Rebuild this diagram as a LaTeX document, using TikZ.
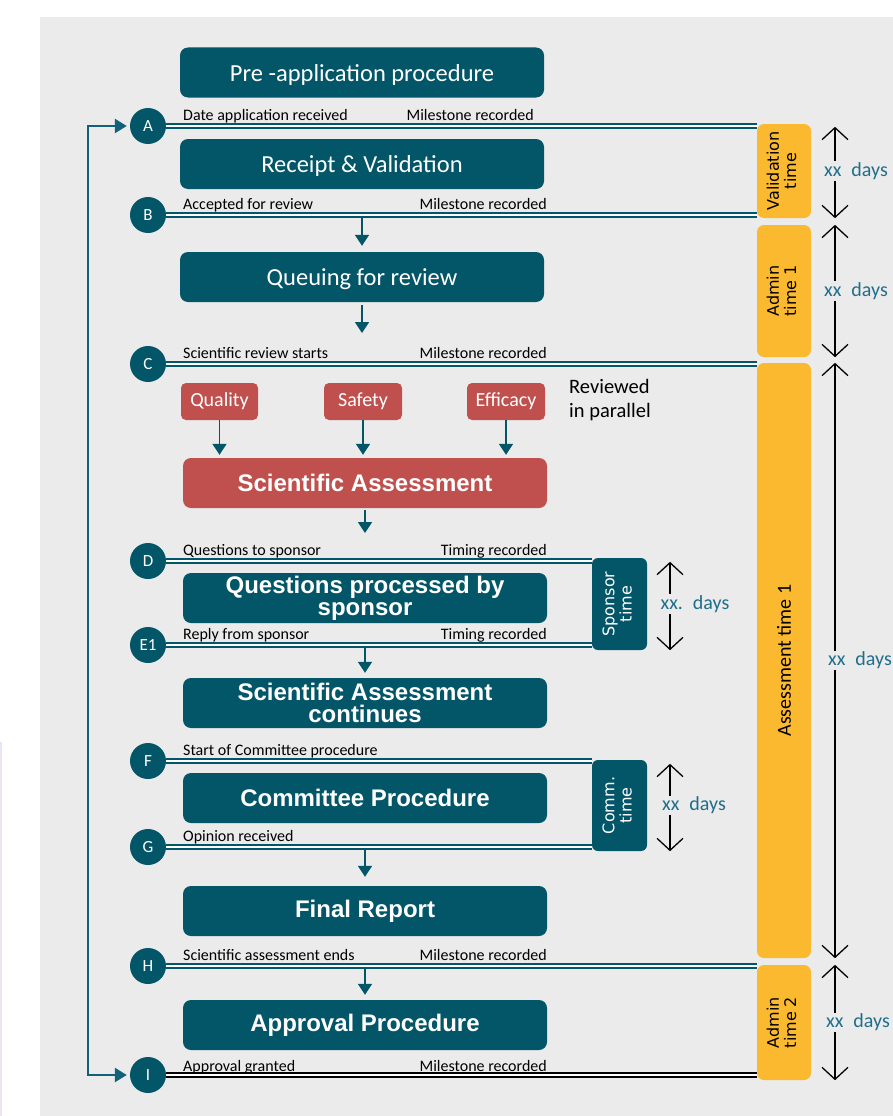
\documentclass[tikz,border=0pt]{standalone}
\usepackage{fontspec}
\usepackage{graphicx}
\setmainfont{Carlito}
\newfontfamily\headfont{Liberation Sans}
\newfontfamily\verdfont{DejaVu Sans}
\usepackage{tikz}
\usetikzlibrary{arrows.meta, positioning}
\definecolor{boxteal}{RGB}{3,85,104}
\definecolor{redbox}{RGB}{192,80,77}
\definecolor{amber}{RGB}{251,185,47}
\definecolor{bggrey}{RGB}{235,235,235}
\definecolor{dayteal}{RGB}{31,110,140}
\definecolor{loopblue}{RGB}{18,96,122}
\definecolor{lavender}{RGB}{236,228,245}

\begin{document}
\begin{tikzpicture}[x=1pt, y=-1pt,
  stage/.style={fill=boxteal, rounded corners=8pt, text=white, minimum width=364, minimum height=50, align=center, inner sep=0pt},
  plain/.style={font=\fontsize{24.5}{26}\selectfont, text depth=0pt},
  heavy/.style={font=\headfont\bfseries\fontsize{24}{22}\selectfont},
  topic/.style={fill=redbox, rounded corners=5pt, text=white, minimum height=37, inner sep=0pt, font=\fontsize{20}{20}\selectfont},
  clock/.style={fill=boxteal, rounded corners=6pt, text=white, minimum width=55, inner sep=0pt, font=\verdfont\fontsize{16}{17}\selectfont},
  yel/.style={fill=amber, rounded corners=7pt, minimum width=54, inner sep=0pt, font=\verdfont\fontsize{16}{17}\selectfont},
  mstone/.style={circle, fill=boxteal, text=white, minimum size=36, inner sep=0pt, font=\fontsize{17}{17}\selectfont},
  lbl/.style={inner sep=0pt, font=\fontsize{16}{16}\selectfont},
  track/.style={draw=boxteal, double=white, line width=1.8pt, double distance=1.6pt},
  flow/.style={draw=boxteal, line width=1.8pt, -{Triangle[length=11pt,width=14pt]}},
  span/.style={draw=black, line width=1.3pt, {Straight Barb[length=12pt,width=26pt]}-{Straight Barb[length=12pt,width=26pt]}},
  days/.style={fill=bggrey, text=dayteal, inner sep=1pt, font=\fontsize{20}{20}\selectfont}]
\useasboundingbox (0,0) rectangle (893,1116);
\fill[bggrey] (40,17) rectangle (893,1116);
\draw[lavender, line width=1.5pt] (1,742) -- (1,1116);

\node[stage, plain] (pre) at (362,72.5) {Pre -application procedure};
\node[stage, plain] (rec) at (362,164) {Receipt \& Validation};
\node[stage, plain] (que) at (362,277) {Queuing for review};
\node[topic, minimum width=77] (qual) at (219.5,401.5) {Quality};
\node[topic, minimum width=78] (saf) at (363,401.5) {Safety};
\node[topic, minimum width=78] (eff) at (506,401.5) {Efficacy};
\node[anchor=west, align=left, inner sep=0pt, font=\fontsize{20.5}{24}\selectfont] (par) at (569,400) {Reviewed\\in parallel};
\node[stage, heavy, fill=redbox] (sa) at (365,483) {Scientific Assessment};
\node[stage, heavy] (qps) at (365,598) {Questions processed by\\sponsor};
\node[stage, heavy] (sac) at (365,703) {Scientific Assessment\\continues};
\node[stage, heavy] (com) at (365,798) {Committee Procedure};
\node[stage, heavy] (fin) at (365,911) {Final Report};
\node[stage, heavy] (app) at (365,1025) {Approval Procedure};

\node[clock, minimum height=92] (spon) at (619.5,604) {\rotatebox{90}{\begin{tabular}{@{}c@{}}Sponsor\\time\end{tabular}}};
\node[clock, minimum height=91] (comm) at (619.5,805.5) {\rotatebox{90}{\begin{tabular}{@{}c@{}}Comm.\\time\end{tabular}}};

\node[yel, minimum height=94] (val) at (784,171) {\rotatebox{90}{\begin{tabular}{@{}c@{}}Validation\\time\end{tabular}}};
\node[yel, minimum height=132] (adm1) at (784,291) {\rotatebox{90}{\begin{tabular}{@{}c@{}}Admin\\time 1\end{tabular}}};
\node[yel, minimum height=595, font=\fontsize{20}{20}\selectfont] (ass) at (784,660.5) {\rotatebox{90}{Assessment time 1}};
\node[yel, minimum height=115] (adm2) at (784,1022.5) {\rotatebox{90}{\begin{tabular}{@{}c@{}}Admin\\time 2\end{tabular}}};

\node[mstone] (A) at (148,126) {A};
\node[mstone] (B) at (148,215) {B};
\node[mstone] (C) at (148,364) {C};
\node[mstone] (D) at (148,561) {D};
\node[mstone] (E1) at (148,645) {E1};
\node[mstone] (F) at (148,761) {F};
\node[mstone] (G) at (148,847) {G};
\node[mstone] (H) at (148,966) {H};
\node[mstone] (I) at (148,1075) {I};

\draw[track] (A.east) -- (A.east -| val.west);
\draw[track] (B.east) -- (B.east -| val.west);
\draw[track] (C.east) -- (C.east -| ass.west);
\draw[track] (D.east) -- (D.east -| spon.west);
\draw[track] (E1.east) -- (E1.east -| spon.west);
\draw[track] (F.east) -- (F.east -| comm.west);
\draw[track] (G.east) -- (G.east -| comm.west);
\draw[track] (H.east) -- (H.east -| adm2.west);
\draw[track, draw=black] (I.east) -- (I.east -| adm2.west);

\node[lbl, anchor=base west] (a1) at (183,120) {Date application received};
\node[lbl, anchor=base east] (a2) at (534,120) {Milestone recorded};
\node[lbl, anchor=base west] (b1) at (183,209) {Accepted for review};
\node[lbl, anchor=base east] (b2) at (547,209) {Milestone recorded};
\node[lbl, anchor=base west] (c1) at (183,358) {Scientific review starts};
\node[lbl, anchor=base east] (c2) at (547,358) {Milestone recorded};
\node[lbl, anchor=base west] (d1) at (183,555) {Questions to sponsor};
\node[lbl, anchor=base east] (d2) at (547,555) {Timing recorded};
\node[lbl, anchor=base west] (e1) at (183,639) {Reply from sponsor};
\node[lbl, anchor=base east] (e2) at (547,639) {Timing recorded};
\node[lbl, anchor=base west] (f1) at (183,755) {Start of Committee procedure};
\node[lbl, anchor=base west] (g1) at (183,841) {Opinion received};
\node[lbl, anchor=base west] (h1) at (183,960) {Scientific assessment ends};
\node[lbl, anchor=base east] (h2) at (547,960) {Milestone recorded};
\node[lbl, anchor=base west] (i1) at (183,1071) {Approval granted};
\node[lbl, anchor=base east] (i2) at (547,1071) {Milestone recorded};

\draw[flow, shorten <=3pt, shorten >=6pt] (B -| que.north) -- (que.north);
\draw[flow, shorten <=3pt, shorten >=31pt] (que.south) -- (C -| que.south);
\draw[flow, shorten >=3pt] (qual) -- (qual |- sa.north);
\draw[flow, shorten >=3pt] (saf) -- (saf |- sa.north);
\draw[flow, shorten >=3pt] (eff) -- (eff |- sa.north);
\draw[flow, shorten <=2pt, shorten >=28pt] (sa.south) -- (D -| sa.south);
\draw[flow, shorten <=3pt, shorten >=5pt] (E1 -| sac.north) -- (sac.north);
\draw[flow, shorten <=3pt, shorten >=9pt] (G -| fin.north) -- (fin.north);
\draw[flow, shorten <=3pt, shorten >=5pt] (H -| app.north) -- (app.north);

\coordinate (lp) at (88,600);
\draw[draw=loopblue, line width=2.4pt, {Triangle[length=12pt,width=14pt]}-{Triangle[length=12pt,width=14pt]}, shorten <=3pt, shorten >=3pt] (A.west) -- (A.west -| lp) |- (I.west);

\coordinate (tx) at (835,0);
\coordinate (sx) at (670,0);
\draw[span, shorten <=3pt] (val.north -| tx) -- node[days, xshift=21pt] {xx\enspace days} (val.south -| tx);
\draw[span] (adm1.north -| tx) -- node[days, xshift=21pt] {xx\enspace days} (adm1.south -| tx);
\draw[span] (ass.north -| tx) -- node[days, xshift=25pt] {xx\enspace days} (ass.south -| tx);
\draw[span] (adm2.north -| tx) -- node[days, xshift=23pt] {xx\enspace days} (adm2.south -| tx);
\draw[span, shorten <=4pt] (spon.north -| sx) -- node[days, xshift=25pt] {xx.\enspace days} (spon.south -| sx);
\draw[span, shorten <=4pt] (comm.north -| sx) -- node[days, xshift=24pt] {xx\enspace days} (comm.south -| sx);
\end{tikzpicture}
\end{document}
